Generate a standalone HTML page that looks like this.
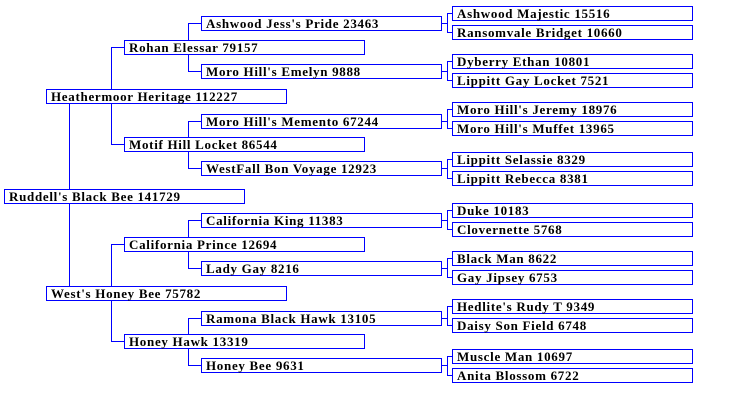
<!DOCTYPE html>
<html><head><meta charset="utf-8"><style>
body{margin:0;width:736px;height:402px;background:#fff;position:relative;overflow:hidden;font-family:"Liberation Serif",serif;}
.b{position:absolute;box-sizing:border-box;width:241px;height:15px;border:1px solid #0000ff;background:#fff;font-weight:bold;font-size:13px;line-height:14px;padding-left:4px;white-space:nowrap;color:#000;letter-spacing:0.7px;overflow:visible}
.h,.v{position:absolute;background:#0000ff}
.h{height:1px}.v{width:1px}
</style></head><body>
<div class="v" style="left:69px;top:103px;height:86px"></div>
<div class="v" style="left:69px;top:203px;height:83px"></div>
<div class="v" style="left:111px;top:47px;height:98px"></div>
<div class="h" style="left:111px;top:47px;width:13px"></div>
<div class="h" style="left:111px;top:144px;width:13px"></div>
<div class="v" style="left:111px;top:244px;height:98px"></div>
<div class="h" style="left:111px;top:244px;width:13px"></div>
<div class="h" style="left:111px;top:341px;width:13px"></div>
<div class="v" style="left:188px;top:23px;height:49px"></div>
<div class="h" style="left:188px;top:23px;width:13px"></div>
<div class="h" style="left:188px;top:71px;width:13px"></div>
<div class="v" style="left:188px;top:121px;height:48px"></div>
<div class="h" style="left:188px;top:121px;width:13px"></div>
<div class="h" style="left:188px;top:168px;width:13px"></div>
<div class="v" style="left:188px;top:220px;height:49px"></div>
<div class="h" style="left:188px;top:220px;width:13px"></div>
<div class="h" style="left:188px;top:268px;width:13px"></div>
<div class="v" style="left:188px;top:318px;height:48px"></div>
<div class="h" style="left:188px;top:318px;width:13px"></div>
<div class="h" style="left:188px;top:365px;width:13px"></div>
<div class="v" style="left:447px;top:13px;height:20px"></div><div class="h" style="left:447px;top:13px;width:5px"></div><div class="h" style="left:447px;top:32px;width:5px"></div><div class="h" style="left:441px;top:23px;width:6px"></div>
<div class="v" style="left:447px;top:61px;height:20px"></div><div class="h" style="left:447px;top:61px;width:5px"></div><div class="h" style="left:447px;top:80px;width:5px"></div><div class="h" style="left:441px;top:71px;width:6px"></div>
<div class="v" style="left:447px;top:109px;height:20px"></div><div class="h" style="left:447px;top:109px;width:5px"></div><div class="h" style="left:447px;top:128px;width:5px"></div><div class="h" style="left:441px;top:121px;width:6px"></div>
<div class="v" style="left:447px;top:159px;height:20px"></div><div class="h" style="left:447px;top:159px;width:5px"></div><div class="h" style="left:447px;top:178px;width:5px"></div><div class="h" style="left:441px;top:168px;width:6px"></div>
<div class="v" style="left:447px;top:210px;height:20px"></div><div class="h" style="left:447px;top:210px;width:5px"></div><div class="h" style="left:447px;top:229px;width:5px"></div><div class="h" style="left:441px;top:220px;width:6px"></div>
<div class="v" style="left:447px;top:258px;height:20px"></div><div class="h" style="left:447px;top:258px;width:5px"></div><div class="h" style="left:447px;top:277px;width:5px"></div><div class="h" style="left:441px;top:268px;width:6px"></div>
<div class="v" style="left:447px;top:306px;height:20px"></div><div class="h" style="left:447px;top:306px;width:5px"></div><div class="h" style="left:447px;top:325px;width:5px"></div><div class="h" style="left:441px;top:318px;width:6px"></div>
<div class="v" style="left:447px;top:356px;height:20px"></div><div class="h" style="left:447px;top:356px;width:5px"></div><div class="h" style="left:447px;top:375px;width:5px"></div><div class="h" style="left:441px;top:365px;width:6px"></div>

<div class="b" style="left:4px;top:189px">Ruddell's Black Bee 141729</div>
<div class="b" style="left:46px;top:89px">Heathermoor Heritage 112227</div>
<div class="b" style="left:46px;top:286px">West's Honey Bee 75782</div>
<div class="b" style="left:124px;top:40px">Rohan Elessar 79157</div>
<div class="b" style="left:124px;top:137px">Motif Hill Locket 86544</div>
<div class="b" style="left:124px;top:237px">California Prince 12694</div>
<div class="b" style="left:124px;top:334px">Honey Hawk 13319</div>
<div class="b" style="left:201px;top:16px">Ashwood Jess's Pride 23463</div>
<div class="b" style="left:201px;top:64px">Moro Hill's Emelyn 9888</div>
<div class="b" style="left:201px;top:114px">Moro Hill's Memento 67244</div>
<div class="b" style="left:201px;top:161px">WestFall Bon Voyage 12923</div>
<div class="b" style="left:201px;top:213px">California King 11383</div>
<div class="b" style="left:201px;top:261px">Lady Gay 8216</div>
<div class="b" style="left:201px;top:311px">Ramona Black Hawk 13105</div>
<div class="b" style="left:201px;top:358px">Honey Bee 9631</div>
<div class="b" style="left:452px;top:6px">Ashwood Majestic 15516</div>
<div class="b" style="left:452px;top:25px">Ransomvale Bridget 10660</div>
<div class="b" style="left:452px;top:54px">Dyberry Ethan 10801</div>
<div class="b" style="left:452px;top:73px">Lippitt Gay Locket 7521</div>
<div class="b" style="left:452px;top:102px">Moro Hill's Jeremy 18976</div>
<div class="b" style="left:452px;top:121px">Moro Hill's Muffet 13965</div>
<div class="b" style="left:452px;top:152px">Lippitt Selassie 8329</div>
<div class="b" style="left:452px;top:171px">Lippitt Rebecca 8381</div>
<div class="b" style="left:452px;top:203px">Duke 10183</div>
<div class="b" style="left:452px;top:222px">Clovernette 5768</div>
<div class="b" style="left:452px;top:251px">Black Man 8622</div>
<div class="b" style="left:452px;top:270px">Gay Jipsey 6753</div>
<div class="b" style="left:452px;top:299px">Hedlite's Rudy T 9349</div>
<div class="b" style="left:452px;top:318px">Daisy Son Field 6748</div>
<div class="b" style="left:452px;top:349px">Muscle Man 10697</div>
<div class="b" style="left:452px;top:368px">Anita Blossom 6722</div>
</body></html>
